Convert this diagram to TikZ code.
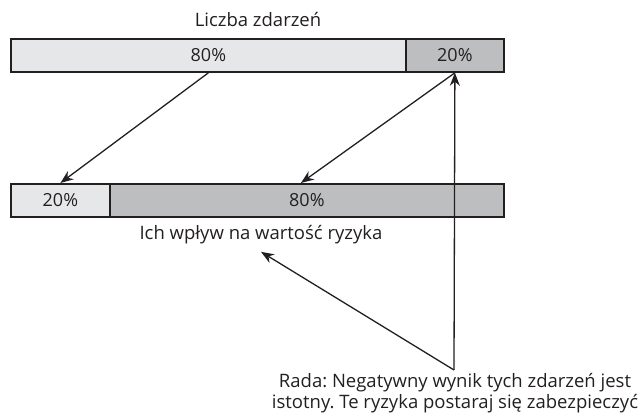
\documentclass[tikz,border=0pt]{standalone}
\usepackage{fontspec}
\setmainfont{Open Sans}
\frenchspacing
\usetikzlibrary{arrows.meta}
\definecolor{barlight}{HTML}{E6E7E8}
\definecolor{bardark}{HTML}{BCBEC0}
\definecolor{ink}{HTML}{231F20}

\begin{document}
\begin{tikzpicture}[x=1pt,y=-1pt,
    seg/.style={draw=ink, line width=1.8pt, minimum height=33pt, inner sep=0pt,
        anchor=north west, text=ink, font=\fontsize{18}{21}\selectfont},
    lbl/.style={text=ink, font=\fontsize{18.5}{21}\selectfont},
    arr/.style={-{Stealth[length=13pt,width=10pt]}, line width=1.3pt, draw=ink}]
    \useasboundingbox (0,0) rectangle (641,419);

    % Top bar: number of events
    \node[lbl] (count) at (258,20) {Liczba zdarzeń};
    \node[seg, fill=barlight, minimum width=395pt] (top80) at (10,38) {80\%};
    \node[seg, fill=bardark, minimum width=98pt] (top20) at (405,38) {20\%};

    % Bottom bar: impact on risk value
    \node[seg, fill=barlight, minimum width=99pt] (bot20) at (10,183) {20\%};
    \node[seg, fill=bardark, minimum width=394pt] (bot80) at (109,183) {80\%};
    \node[lbl] (impact) at (261,235) {Ich wpływ na wartość ryzyka};

    % Advice at the bottom
    \node[lbl, align=center, anchor=north, inner sep=0pt] (advice) at (455,373)
        {Rada: Negatywny wynik tych zdarzeń jest\\istotny. Te ryzyka postaraj się zabezpieczyć};
    \coordinate (apex) at (454,370);

    % Arrows
    \draw[arr] (top80.south) -- (bot20.north);
    \draw[arr] (top20.south) -- ([xshift=-6pt]bot80.north);
    \draw[arr] (apex) -- (top20.south);
    \draw[arr] (apex) -- ([shift={(0pt,-4pt)}]impact.south);
\end{tikzpicture}
\end{document}
